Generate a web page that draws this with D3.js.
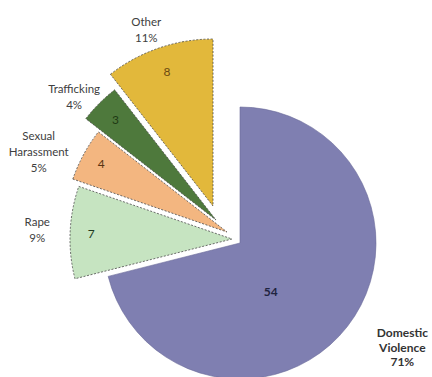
<!DOCTYPE html>
<html>
<head>
<meta charset="utf-8">
<script src="https://cdn.jsdelivr.net/npm/d3@7"></script>
<style>
  html, body { margin: 0; padding: 0; background: #fff; }
  svg { display: block; }
</style>
</head>
<body>
<svg id="chart" width="432" height="377"></svg>
<script>
// ---- data ----
const categories = ["Domestic Violence", "Rape", "Sexual Harassment", "Trafficking", "Other"];
const values = [54, 7, 4, 3, 8];
const percentLabels = ["71%", "9%", "5%", "4%", "11%"];
const categoryLines = [["Domestic", "Violence"], ["Rape"], ["Sexual", "Harassment"], ["Trafficking"], ["Other"]];

// ---- style / layout ----
const colors = ["#7f7fb1", "#c6e4c1", "#f3b680", "#4e793c", "#e2b83b"];
const center = [240, 243];
const radii = [136, 162, 163, 165, 167];
const explode = [[0, 0], [-8, -4], [-13, -11], [-24, -23], [-27, -37]];
const valueR = [57, 141, 143, 142, 142];
const valueAngleShift = [0.34, 0, 0, 0, 0];
const labelR = [193, 195, 205, 188, 189];
const labelAngleShift = [-0.09, 0.01, -0.09, -0.07, -0.03];
const valueColors = ["#1f2440", "#1f3a1f", "#5a3412", "#1f3a14", "#6b4a12"];

const svg = d3.select("#chart");
const pie = d3.pie().sort(null).value(d => d).startAngle(0).endAngle(2 * Math.PI);
const arcs = pie(values);

const g = svg.append("g");

arcs.forEach((a, i) => {
  const cx = center[0] + explode[i][0];
  const cy = center[1] + explode[i][1];
  const arc = d3.arc().innerRadius(0).outerRadius(radii[i]);
  const sg = g.append("g").attr("transform", `translate(${cx},${cy})`);
  sg.append("path")
    .attr("d", arc(a))
    .attr("fill", colors[i])
    .attr("stroke", i === 0 ? "#6a6a98" : "#4a4a4a")
    .attr("stroke-width", i === 0 ? 0.6 : 0.8)
    .attr("stroke-dasharray", i === 0 ? null : "2,1.6");

  const mid = (a.startAngle + a.endAngle) / 2;
  const va = mid + valueAngleShift[i];
  sg.append("text")
    .attr("x", Math.sin(va) * valueR[i])
    .attr("y", -Math.cos(va) * valueR[i])
    .attr("text-anchor", "middle")
    .attr("dominant-baseline", "central")
    .attr("font-family", "Lato, 'Open Sans', sans-serif")
    .attr("font-size", "12px")
    .attr("font-weight", i === 0 ? "bold" : "normal")
    .attr("fill", valueColors[i])
    .text(values[i]);

  const la = mid + labelAngleShift[i];
  const lx = Math.sin(la) * labelR[i];
  const ly = -Math.cos(la) * labelR[i];
  const lines = categoryLines[i].concat([percentLabels[i]]);
  const lh = i === 0 ? 14.5 : 16;
  const t = sg.append("text")
    .attr("text-anchor", "middle")
    .attr("font-family", "Lato, 'Open Sans', sans-serif")
    .attr("font-size", i === 0 ? "12px" : "11.5px")
    .attr("font-weight", i === 0 ? "bold" : "normal")
    .attr("fill", i === 0 ? "#333" : "#404040");
  lines.forEach((ln, k) => {
    t.append("tspan")
      .attr("x", lx)
      .attr("y", ly + (k - (lines.length - 1) / 2) * lh)
      .attr("dominant-baseline", "central")
      .text(ln);
  });
});
</script>
</body>
</html>
